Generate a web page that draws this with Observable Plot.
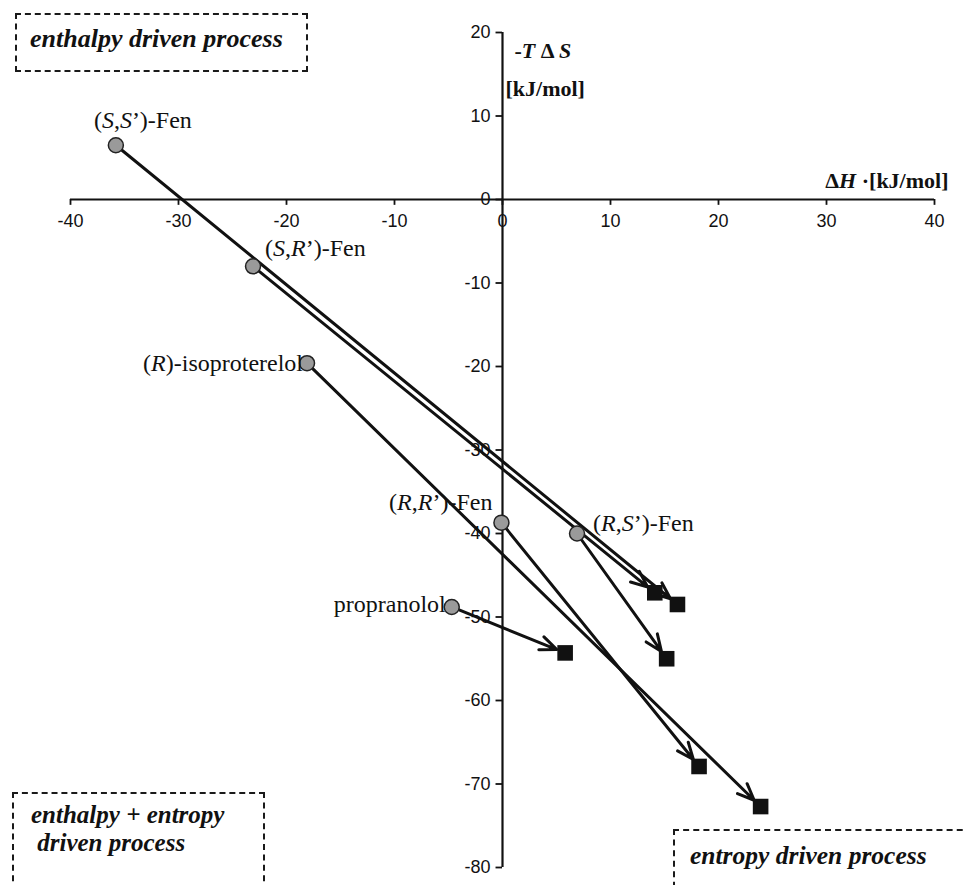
<!DOCTYPE html>
<html><head><meta charset="utf-8">
<script src="https://cdn.jsdelivr.net/npm/d3@7"></script>
<script src="https://cdn.jsdelivr.net/npm/@observablehq/plot@0.6"></script>
<style>
body{margin:0;background:#fff;}
#wrap{position:relative;width:965px;height:885px;overflow:hidden;background:#fff;}
#wrap svg{position:absolute;left:0;top:0;}
.box{position:absolute;border:2.5px dashed #1a1a1a;font-family:"Liberation Serif","Times New Roman",serif;font-style:italic;font-weight:bold;color:#111;box-sizing:border-box;white-space:pre;}
</style></head><body>
<div id="wrap"></div>
<script>
// ---- data ----
const compounds = ["(S,S’)-Fen", "(S,R’)-Fen", "(R)-isoproterelol", "(R,R’)-Fen", "(R,S’)-Fen", "propranolol"];
// start point (grey circle): ΔH, -TΔS  [kJ/mol]
const dH1  = [-35.8, -23.1, -18.1, -0.1, 6.9, -4.7];
const tdS1 = [6.5, -8.0, -19.6, -38.7, -40.0, -48.8];
// end point (black square)
const dH2  = [16.2, 14.1, 23.9, 18.2, 15.2, 5.8];
const tdS2 = [-48.5, -47.1, -72.7, -67.9, -55.0, -54.3];

const xTicks = [-40, -30, -20, -10, 0, 10, 20, 30, 40];
const yTicks = [20, 10, 0, -10, -20, -30, -40, -50, -60, -70, -80];
const xTitle = "ΔH ·[kJ/mol]";
const yTitle = ["-T Δ S", "[kJ/mol]"];
const regionLabels = ["enthalpy driven process", "enthalpy + entropy\n driven process", "entropy driven process"];

// ---- build ----
const rows = compounds.map((name, i) => ({name, x1: dH1[i], y1: tdS1[i], x2: dH2[i], y2: tdS2[i]}));

const place = {
  "(S,S’)-Fen": {dx: 27, dy: -25, a: "middle"},
  "(S,R’)-Fen": {dx: 12, dy: -18, a: "start"},
  "(R)-isoproterelol": {dx: -4, dy: 0, a: "end"},
  "(R,R’)-Fen": {dx: -9, dy: -20, a: "end"},
  "(R,S’)-Fen": {dx: 16, dy: -10, a: "start"},
  "propranolol": {dx: -6, dy: -3, a: "end"}
};
const serif = "Liberation Serif, Times New Roman, serif";

const labelMarks = rows.map(r => Plot.text([r], {
  x: "x1", y: "y1", text: "name",
  dx: place[r.name].dx, dy: place[r.name].dy, textAnchor: place[r.name].a,
  fontFamily: serif, fontSize: 24, fill: "#111"
}));

const chart = Plot.plot({
  width: 965, height: 885,
  marginTop: 32, marginBottom: 18, marginLeft: 70, marginRight: 31,
  x: {domain: [-40, 40], axis: null},
  y: {domain: [-80, 20], axis: null},
  style: {background: "transparent", fontFamily: "Liberation Sans, Arial, sans-serif", color: "#111"},
  marks: [
    Plot.ruleY([0], {x1: -40, x2: 40, stroke: "#111", strokeWidth: 2.2}),
    Plot.ruleX([0], {y1: -80, y2: 20, stroke: "#111", strokeWidth: 2.2}),
    Plot.ruleX(xTicks, {x: d => d, y1: 0, y2: -0.7, stroke: "#111", strokeWidth: 1.8}),
    Plot.ruleY(yTicks, {y: d => d, x1: -0.6, x2: 0, stroke: "#111", strokeWidth: 1.8}),
    Plot.text(xTicks, {x: d => d, y: 0, text: d => String(d), dy: 22, fontSize: 18, fill: "#111"}),
    Plot.text(yTicks, {x: 0, y: d => d, text: d => String(d), dx: -12, textAnchor: "end", fontSize: 18, fill: "#111"}),
    Plot.arrow(rows, {x1: "x1", y1: "y1", x2: "x2", y2: "y2", stroke: "#111", strokeWidth: 3, headLength: 9, headAngle: 45, insetEnd: 9}),
    Plot.dot(rows, {x: "x1", y: "y1", r: 7.5, fill: "#9a9a9a", stroke: "#222", strokeWidth: 1.5}),
    Plot.dot(rows, {x: "x2", y: "y2", r: 8.8, symbol: "square", fill: "#111", stroke: "none"}),
    ...labelMarks,
    Plot.text([yTitle[0]], {x: 0, y: 20, dx: 12, dy: 18, textAnchor: "start", fontFamily: serif, fontWeight: "bold", fontSize: 22, fill: "#111"}),
    Plot.text([yTitle[1]], {x: 0, y: 20, dx: 3, dy: 56, textAnchor: "start", fontFamily: serif, fontWeight: "bold", fontSize: 22, fill: "#111"}),
    Plot.text([xTitle], {x: 40, y: 0, dx: 14, dy: -19, textAnchor: "end", fontFamily: serif, fontWeight: "bold", fontSize: 22, fill: "#111"})
  ]
});

// italic letters inside text
d3.select(chart).selectAll("text").each(function() {
  const t = this.textContent;
  if (t === yTitle[0]) {
    this.innerHTML = '-<tspan font-style="italic">T</tspan> Δ <tspan font-style="italic">S</tspan>';
  } else if (t === xTitle) {
    this.innerHTML = 'Δ<tspan font-style="italic">H</tspan> ·[kJ/mol]';
  } else if (/\([RS]/.test(t)) {
    this.innerHTML = t.replace(/(?<=[(,])([RS])/g, '<tspan font-style="italic">$1</tspan>');
  }
});

const wrap = document.getElementById("wrap");
wrap.appendChild(chart);

const boxes = [
  {left: 15, top: 13, width: 293, height: 59, fs: 26, pl: 13, pt: 9, lh: 30},
  {left: 12, top: 792, width: 253, height: 110, fs: 25, pl: 17, pt: 7, lh: 28},
  {left: 673, top: 829, width: 310, height: 80, fs: 25.5, pl: 15, pt: 10, lh: 30}
];
regionLabels.forEach((txt, i) => {
  const b = boxes[i];
  const d = document.createElement("div");
  d.className = "box";
  Object.assign(d.style, {left: b.left + "px", top: b.top + "px", width: b.width + "px", height: b.height + "px",
    fontSize: b.fs + "px", paddingLeft: b.pl + "px", paddingTop: b.pt + "px", lineHeight: b.lh + "px"});
  d.textContent = txt;
  wrap.appendChild(d);
});
</script>
</body></html>
